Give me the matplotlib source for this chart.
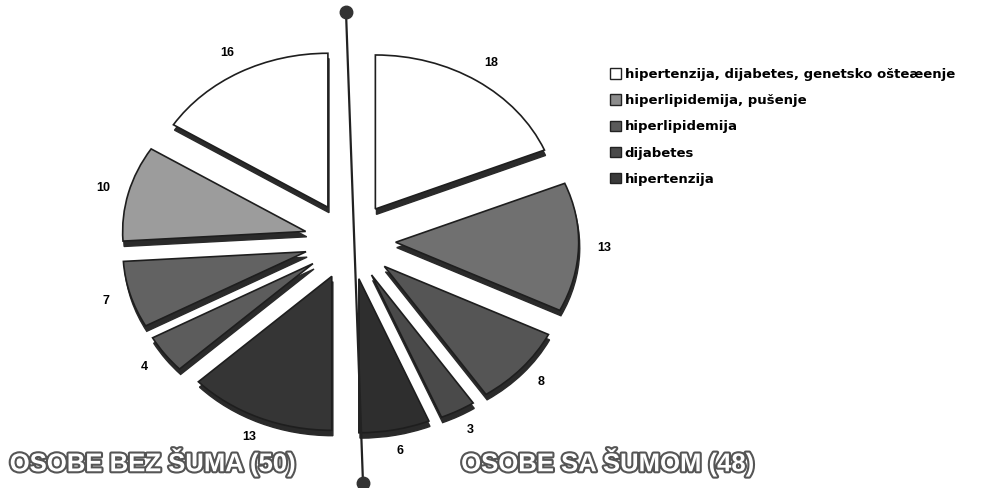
import matplotlib.pyplot as plt
import matplotlib.patheffects as pe
from matplotlib.patches import Patch

plt.rcParams['font.family'] = ['Liberation Sans', 'DejaVu Sans']

categories = ["hipertenzija, dijabetes, genetsko ošteæenje",
              "hiperlipidemija, pušenje",
              "hiperlipidemija",
              "dijabetes",
              "hipertenzija"]
bez_suma = [16, 10, 7, 4, 13]   # osobe bez šuma (50)
sa_sumom = [18, 13, 8, 3, 6]    # osobe sa šumom (48)

left_colors = ["#ffffff", "#9c9c9c", "#626262", "#5c5c5c", "#353535"]
right_colors = ["#ffffff", "#707070", "#555555", "#4a4a4a", "#2e2e2e"]
legend_colors = ["#ffffff", "#8c8c8c", "#5a5a5a", "#4a4a4a", "#3a3a3a"]

fig = plt.figure(figsize=(9.83, 4.88), dpi=100)
ax = fig.add_axes([0.0023, 0.0328, 0.7074, 0.9467])

expl = 0.25


def half_pie(vals, colors, ccw):
    # second half of the circle is an invisible filler so each group fills 180 degrees
    full = list(vals) + [sum(vals)]
    ex = [expl] * len(vals) + [0]
    # thickness (dark copy shifted down)
    sh, _ = ax.pie(full, explode=ex, startangle=90, counterclock=ccw,
                   colors=["#2a2a2a"] * len(full), center=(0.006, -0.035),
                   wedgeprops=dict(edgecolor="#2a2a2a", linewidth=1))
    sh[-1].set_visible(False)
    w, t = ax.pie(full, explode=ex, startangle=90, counterclock=ccw,
                  colors=colors + ["none"], labels=[str(v) for v in vals] + [""],
                  labeldistance=1.14,
                  textprops=dict(fontsize=9, fontweight="bold", ha="center", va="center"),
                  wedgeprops=dict(edgecolor="#1e1e1e", linewidth=1.2))
    w[-1].set_visible(False)


half_pie(sa_sumom, right_colors, False)
half_pie(bez_suma, left_colors, True)

ax.set_aspect("auto")
ax.set_xlim(-1.9, 1.9)
ax.set_ylim(-1.5, 1.5)
ax.axis("off")

# overlay in pixel coordinates for the divider and group titles
ov = fig.add_axes([0, 0, 1, 1], facecolor="none")
ov.set_xlim(0, 983)
ov.set_ylim(488, 0)
ov.axis("off")
ov.plot([346, 363], [12, 483], color="#222222", lw=1.6)
ov.plot([346, 363], [12, 483], "o", color="#333333", ms=9)

outline = [pe.withStroke(linewidth=3, foreground="#555555")]
ov.text(153, 462, "OSOBE BEZ ŠUMA (50)", fontsize=18.5, fontweight="bold",
        color="white", ha="center", va="center", path_effects=outline)
ov.text(608, 462, "OSOBE SA ŠUMOM (48)", fontsize=18.5, fontweight="bold",
        color="white", ha="center", va="center", path_effects=outline)

handles = [Patch(facecolor=c, edgecolor="#222222", linewidth=1) for c in legend_colors]
fig.legend(handles, categories, loc="upper left", bbox_to_anchor=(0.608, 0.885),
           frameon=False, handlelength=0.85, handleheight=0.85, handletextpad=0.3,
           labelspacing=1.0, prop=dict(family="DejaVu Sans", size=9.5, weight="bold"))

fig.savefig("out.png", dpi=100)
